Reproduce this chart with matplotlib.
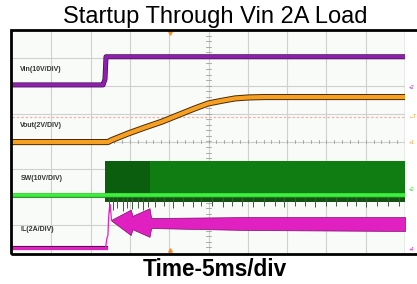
import matplotlib
matplotlib.use("Agg")
import matplotlib.pyplot as plt
import matplotlib.patheffects as pe
from matplotlib.patches import Rectangle
import numpy as np

plt.rcParams['font.family'] = ['Liberation Sans', 'DejaVu Sans']

# ---------------- data (time in ms, 5 ms/div) ----------------
title = "Startup Through Vin 2A Load"
xlabel = "Time-5ms/div"
labels = ["Vin(10V/DIV)", "Vout(2V/DIV)", "SW(10V/DIV)", "IL(2A/DIV)"]

# channel scale (units/div) and zero offset (div)
vin_scale, vin_off = 10.0, 2.03
vout_scale, vout_off = 2.0, -0.02
sw_scale, sw_off = 10.0, -1.92
il_scale, il_off = 2.0, -3.82

vin_t = [0, 11.58, 11.70, 11.83, 11.96, 50]
vin_v = [0, 0, 1.0, 2.0, 10.1, 10.1]

vout_t = [0, 12.2, 12.68, 14.8, 16.92, 19.05, 21.16, 23.28, 24.97, 26.68, 28.37, 30.06, 32.19, 50]
vout_v = [0, 0, 0.14, 0.62, 1.05, 1.46, 1.94, 2.42, 2.77, 2.96, 3.13, 3.20, 3.23, 3.23]

sw_start = 11.85
sw_dark_end = 17.6
sw_high = 12.3
sw_low = -2.6
sw_spike_t = [12.3, 12.8, 13.4, 14.1, 14.6, 15.3, 16.0, 16.7, 17.3, 18.2, 19.4, 20.5,
              21.8, 23.0, 24.1, 25.5, 26.8, 28.0, 29.3, 30.7, 32.0, 33.4, 34.6, 36.0,
              37.3, 38.5, 39.9, 41.2, 42.6, 43.8, 45.1, 46.5, 47.8, 49.2]
sw_spike_v = [-6.0, -5.2, -4.8, -5.6, -4.5, -5.0, -4.6, -5.3, -4.4, -4.2, -4.0, -4.5,
              -3.9, -4.3, -4.1, -3.8, -4.4, -4.0, -3.9, -4.2, -3.8, -4.1, -4.3, -3.9,
              -4.0, -4.2, -3.8, -4.1, -3.9, -4.0, -4.2, -3.8, -4.0, -3.9]

il_base_t = [0, 11.9]
il_base_a = [0.0, 0.0]
il_rise_t = [11.9, 12.05, 12.1, 12.2, 12.3, 12.4, 12.5, 12.65]
il_rise_a = [0.0, 0.6, 0.75, 0.9, 2.2, 2.9, 3.1, 2.0]
il_env_t = [12.65, 15.1, 15.35, 15.5, 17.5, 17.7, 30.0, 50.0]
il_env_hi = [2.02, 2.75, 2.29, 2.35, 2.85, 2.15, 2.22, 2.22]
il_env_lo = [1.96, 0.93, 1.36, 1.30, 0.80, 1.43, 1.29, 1.22]

trig_level_v = 1.8
trig_time = 20.1

# ---------------- figure ----------------
W, H = 417, 284
fig = plt.figure(figsize=(W / 100, H / 100), dpi=100)
fig.patch.set_facecolor('white')

L, R, T, B = 12, 405, 30, 253
ax = fig.add_axes([L / W, (H - B) / H, (R - L) / W, (B - T) / H])
ax.set_xlim(0, 50)
ax.set_ylim(-4, 4)
ax.set_facecolor('#f8fbf8')
for s in ax.spines.values():
    s.set_visible(False)
ax.set_xticks([])
ax.set_yticks([])

# grid
for x in np.arange(5, 50, 5):
    ax.axvline(x, color='#d0d0d0', lw=0.8, zorder=1)
for y in np.arange(-3, 4, 1):
    ax.axhline(y, color='#d0d0d0', lw=0.8, zorder=1)
ax.axvline(50, color='#a8a8a8', lw=1.0, zorder=1)
# center ticks
for x in np.arange(1, 50, 1):
    ax.plot([x, x], [-0.05, 0.05], color='#a0a0a0', lw=0.6, zorder=1)
for y in np.arange(-3.8, 4, 0.2):
    ax.plot([24.7, 25.3], [y, y], color='#a0a0a0', lw=0.6, zorder=1)

# trigger level dashed line
ax.axhline(vout_off + trig_level_v / vout_scale, color='#f0b4a4', lw=0.9,
           ls=(0, (2, 1.5)), zorder=2)

# ---- SW ----
ax.fill_between([sw_start, 50], sw_off, sw_off + sw_high / sw_scale,
                color='#0f7d12', lw=0, zorder=3)
ax.fill_between([sw_start, sw_dark_end], sw_off, sw_off + sw_high / sw_scale,
                color='#0b5e0e', lw=0, zorder=3)
ax.fill_between([sw_start, 50], sw_off, sw_off + sw_low / sw_scale,
                color='#145214', lw=0, zorder=3)
ax.vlines(sw_spike_t, sw_off, [sw_off + v / sw_scale for v in sw_spike_v],
          color='#3c5a3c', lw=0.7, zorder=3)
ax.plot([0, 50], [sw_off, sw_off], color='#3ef03e', lw=2.6, zorder=4,
        path_effects=[pe.Stroke(linewidth=3.4, foreground='#1f8a1f'), pe.Normal()])

# ---- Vin ----
ax.plot(vin_t, [vin_off + v / vin_scale for v in vin_v], color='#901fb0', lw=2.6,
        zorder=5, path_effects=[pe.Stroke(linewidth=3.6, foreground='#3a0f48'), pe.Normal()])

# ---- Vout ----
ax.plot(vout_t, [vout_off + v / vout_scale for v in vout_v], color='#f7a020', lw=3.0,
        zorder=5, path_effects=[pe.Stroke(linewidth=4.4, foreground='#4a2a08'), pe.Normal()])

# ---- IL ----
ax.plot(il_base_t, [il_off + a / il_scale for a in il_base_a], color='#e020c0', lw=2.2,
        zorder=5, path_effects=[pe.Stroke(linewidth=3.0, foreground='#5a1050'), pe.Normal()])
ax.plot(il_rise_t, [il_off + a / il_scale for a in il_rise_a], color='#e020c0', lw=0.9, zorder=5)
ax.fill_between(il_env_t, [il_off + a / il_scale for a in il_env_lo],
                [il_off + a / il_scale for a in il_env_hi],
                color='#e020c0', ec='#7a1068', lw=0.5, zorder=5)

# channel labels
lab_pos = [(1.0, 2.6), (1.0, 0.59), (1.1, -1.31), (1.1, -3.17)]
for txt, (x, y) in zip(labels, lab_pos):
    ax.text(x, y, txt, fontsize=5, fontweight='bold', color='#333333',
            va='center', ha='left', zorder=6)

# trigger position markers
ax.plot([trig_time], [3.88], marker='v', ms=2.5, color='#ff8a20', zorder=6, clip_on=False)
ax.plot([trig_time], [-3.9], marker='^', ms=2.5, color='#ff8a20', zorder=6, clip_on=False)

# right-side channel markers
mk = [(vin_off - 0.1, '+2', '#a020c0'), (vout_off + trig_level_v / vout_scale, '\u2190T', '#ff9a20'),
      (vout_off, '+1', '#ff9a20'), (sw_off + 0.2, '+2', '#30c030'), (il_off - 0.05, '+4', '#e020c0')]
for y, t, c in mk:
    ax.text(50.5, y, t, fontsize=3.6, color=c, va='center', ha='left', clip_on=False)

# black frame
fig.add_artist(Rectangle((11 / W, (H - 254) / H), 0.99, 224 / H, transform=fig.transFigure,
                         fill=False, ec='black', lw=2.0))

# title and x label
fig.text(215 / W, (H - 23) / H, title, fontsize=17, ha='center', va='baseline')
fig.text(214.5 / W, (H - 276) / H, xlabel, fontsize=16.3, fontweight='bold',
         ha='center', va='baseline')

fig.savefig('out.png', dpi=100)
